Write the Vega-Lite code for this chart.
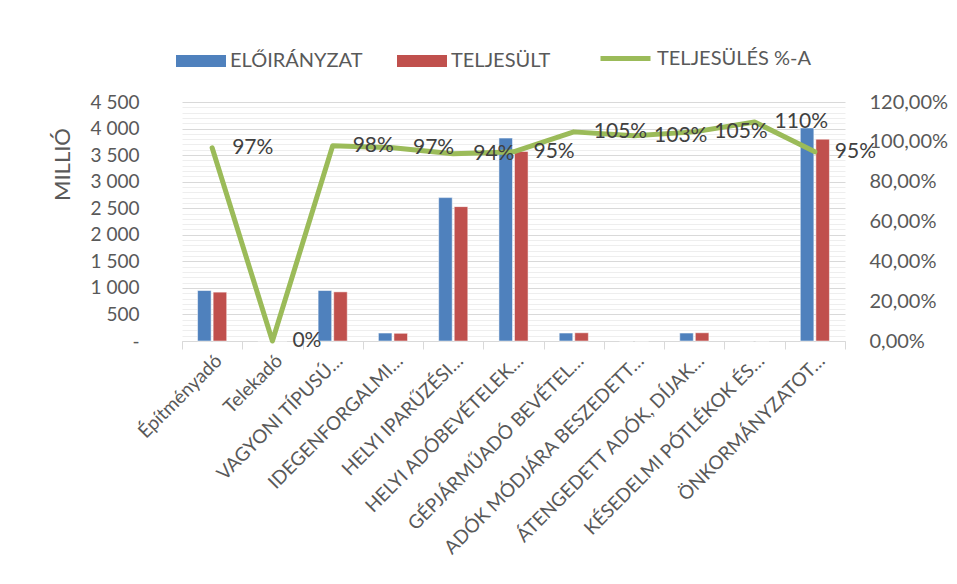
{
  "$schema": "https://vega.github.io/schema/vega-lite/v6.json",
  "autosize": {"type": "none"},
  "padding": {"left": 182, "top": 102, "right": 112, "bottom": 243},
  "width": 663,
  "height": 239,
  "background": "white",
  "config": {
    "font": "Lato",
    "view": {"stroke": null},
    "axis": {"labelColor": "#595959", "labelFontSize": 16, "titleColor": "#595959", "labelFont": "Lato", "titleFont": "Lato"}
  },
  "datasets": {
    "bars": [
      {"cat": "Építményadó", "series": "ELŐIRÁNYZAT", "value": 950},
      {"cat": "Építményadó", "series": "TELJESÜLT", "value": 920},
      {"cat": "Telekadó", "series": "ELŐIRÁNYZAT", "value": 0},
      {"cat": "Telekadó", "series": "TELJESÜLT", "value": 0},
      {"cat": "VAGYONI TÍPUSÚ…", "series": "ELŐIRÁNYZAT", "value": 950},
      {"cat": "VAGYONI TÍPUSÚ…", "series": "TELJESÜLT", "value": 925},
      {"cat": "IDEGENFORGALMI…", "series": "ELŐIRÁNYZAT", "value": 150},
      {"cat": "IDEGENFORGALMI…", "series": "TELJESÜLT", "value": 145},
      {"cat": "HELYI IPARŰZÉSI…", "series": "ELŐIRÁNYZAT", "value": 2700},
      {"cat": "HELYI IPARŰZÉSI…", "series": "TELJESÜLT", "value": 2530},
      {"cat": "HELYI ADÓBEVÉTELEK…", "series": "ELŐIRÁNYZAT", "value": 3820},
      {"cat": "HELYI ADÓBEVÉTELEK…", "series": "TELJESÜLT", "value": 3570},
      {"cat": "GÉPJÁRMŰADÓ BEVÉTEL…", "series": "ELŐIRÁNYZAT", "value": 150},
      {"cat": "GÉPJÁRMŰADÓ BEVÉTEL…", "series": "TELJESÜLT", "value": 155},
      {"cat": "ADÓK MÓDJÁRA BESZEDETT…", "series": "ELŐIRÁNYZAT", "value": 0},
      {"cat": "ADÓK MÓDJÁRA BESZEDETT…", "series": "TELJESÜLT", "value": 0},
      {"cat": "ÁTENGEDETT ADÓK, DÍJAK…", "series": "ELŐIRÁNYZAT", "value": 150},
      {"cat": "ÁTENGEDETT ADÓK, DÍJAK…", "series": "TELJESÜLT", "value": 155},
      {"cat": "KÉSEDELMI PÓTLÉKOK ÉS…", "series": "ELŐIRÁNYZAT", "value": 0},
      {"cat": "KÉSEDELMI PÓTLÉKOK ÉS…", "series": "TELJESÜLT", "value": 0},
      {"cat": "ÖNKORMÁNYZATOT…", "series": "ELŐIRÁNYZAT", "value": 4010},
      {"cat": "ÖNKORMÁNYZATOT…", "series": "TELJESÜLT", "value": 3800}
    ],
    "pct": [
      {"cat": "Építményadó", "series": "TELJESÜLÉS %-A", "pct": 0.97},
      {"cat": "Telekadó", "series": "TELJESÜLÉS %-A", "pct": 0.0},
      {"cat": "VAGYONI TÍPUSÚ…", "series": "TELJESÜLÉS %-A", "pct": 0.98},
      {"cat": "IDEGENFORGALMI…", "series": "TELJESÜLÉS %-A", "pct": 0.97},
      {"cat": "HELYI IPARŰZÉSI…", "series": "TELJESÜLÉS %-A", "pct": 0.94},
      {"cat": "HELYI ADÓBEVÉTELEK…", "series": "TELJESÜLÉS %-A", "pct": 0.95},
      {"cat": "GÉPJÁRMŰADÓ BEVÉTEL…", "series": "TELJESÜLÉS %-A", "pct": 1.05},
      {"cat": "ADÓK MÓDJÁRA BESZEDETT…", "series": "TELJESÜLÉS %-A", "pct": 1.03},
      {"cat": "ÁTENGEDETT ADÓK, DÍJAK…", "series": "TELJESÜLÉS %-A", "pct": 1.05},
      {"cat": "KÉSEDELMI PÓTLÉKOK ÉS…", "series": "TELJESÜLÉS %-A", "pct": 1.10},
      {"cat": "ÖNKORMÁNYZATOT…", "series": "TELJESÜLÉS %-A", "pct": 0.95}
    ]
  },
  "encoding": {
    "x": {
      "field": "cat", "type": "nominal", "sort": null,
      "scale": {"paddingInner": 0, "paddingOuter": 0},
      "axis": {
        "title": null, "labelAngle": -45, "labelAlign": "right", "labelBaseline": "top",
        "labelLimit": 400, "labelPadding": 2, "tickBand": "extent", "tickSize": 8,
        "tickColor": "#d9d9d9", "domainColor": "#d9d9d9", "grid": false, "labelFontSize": 19
      }
    }
  },
  "layer": [
    {
      "data": {"name": "bars"},
      "mark": {"type": "bar", "stroke": "white", "strokeWidth": 0.5},
      "encoding": {
        "xOffset": {"field": "series", "type": "nominal", "scale": {"paddingInner": 0.13, "paddingOuter": 1.07}},
        "y": {
          "field": "value", "type": "quantitative",
          "scale": {"domain": [0, 4500], "nice": false},
          "axis": {
            "title": "MILLIÓ", "titleFontSize": 22, "titleFontWeight": "normal",
            "titleX": -120, "titleY": 62, "titleAlign": "center", "titleBaseline": "middle", "titleAngle": -90,
            "values": [0,100,200,300,400,500,600,700,800,900,1000,1100,1200,1300,1400,1500,1600,1700,1800,1900,2000,2100,2200,2300,2400,2500,2600,2700,2800,2900,3000,3100,3200,3300,3400,3500,3600,3700,3800,3900,4000,4100,4200,4300,4400,4500],
            "labelExpr": "datum.value % 500 !== 0 ? '' : (datum.value === 0 ? '-' : replace(format(datum.value, ','), ',', ' '))",
            "gridColor": {"condition": {"test": "datum.value % 500 === 0", "value": "#d9d9d9"}, "value": "#eeeeee"},
            "gridWidth": 1, "labelFontSize": 19,
            "domain": false, "ticks": false, "labelPadding": 43
          }
        },
        "color": {
          "field": "series", "type": "nominal",
          "scale": {"domain": ["ELŐIRÁNYZAT", "TELJESÜLT"], "range": ["#4F81BD", "#C0504D"]},
          "legend": {
            "orient": "none", "legendX": -6, "legendY": -66, "direction": "horizontal", "title": null,
            "symbolType": "M-1,-0.24H1V0.24H-1Z", "symbolSize": 2500, "symbolStrokeWidth": 0,
            "labelFontSize": 20, "labelColor": "#595959", "labelOffset": 4, "columnPadding": 34, "labelLimit": 300
          }
        }
      }
    },
    {
      "data": {"name": "pct"},
      "mark": {"type": "line", "strokeWidth": 5, "strokeCap": "round", "strokeJoin": "round"},
      "encoding": {
        "y": {
          "field": "pct", "type": "quantitative",
          "scale": {"domain": [0, 1.2], "nice": false},
          "axis": {
            "orient": "right", "title": null, "grid": false, "domain": false, "ticks": false,
            "values": [0, 0.2, 0.4, 0.6, 0.8, 1.0, 1.2], "labelFontSize": 20,
            "labelExpr": "replace(format(datum.value, '.2%'), '.', ',')", "labelPadding": 24
          }
        },
        "stroke": {
          "field": "series", "type": "nominal",
          "scale": {"domain": ["TELJESÜLÉS %-A"], "range": ["#9BBB59"]},
          "legend": {
            "orient": "none", "legendX": 416, "legendY": -71, "direction": "horizontal", "title": null,
            "symbolType": "stroke", "symbolSize": 2500, "symbolStrokeWidth": 5,
            "labelFontSize": 20, "labelColor": "#595959", "labelOffset": 4, "labelLimit": 300
          }
        }
      }
    },
    {
      "data": {"name": "pct"},
      "mark": {"type": "text", "align": "left", "baseline": "middle", "dx": 20, "fontSize": 21, "color": "#404040", "font": "Lato"},
      "encoding": {
        "y": {"field": "pct", "type": "quantitative", "scale": {"domain": [0, 1.2], "nice": false}, "axis": null},
        "text": {"field": "pct", "type": "quantitative", "format": ".0%"}
      }
    }
  ],
  "resolve": {"scale": {"y": "independent"}}
}
